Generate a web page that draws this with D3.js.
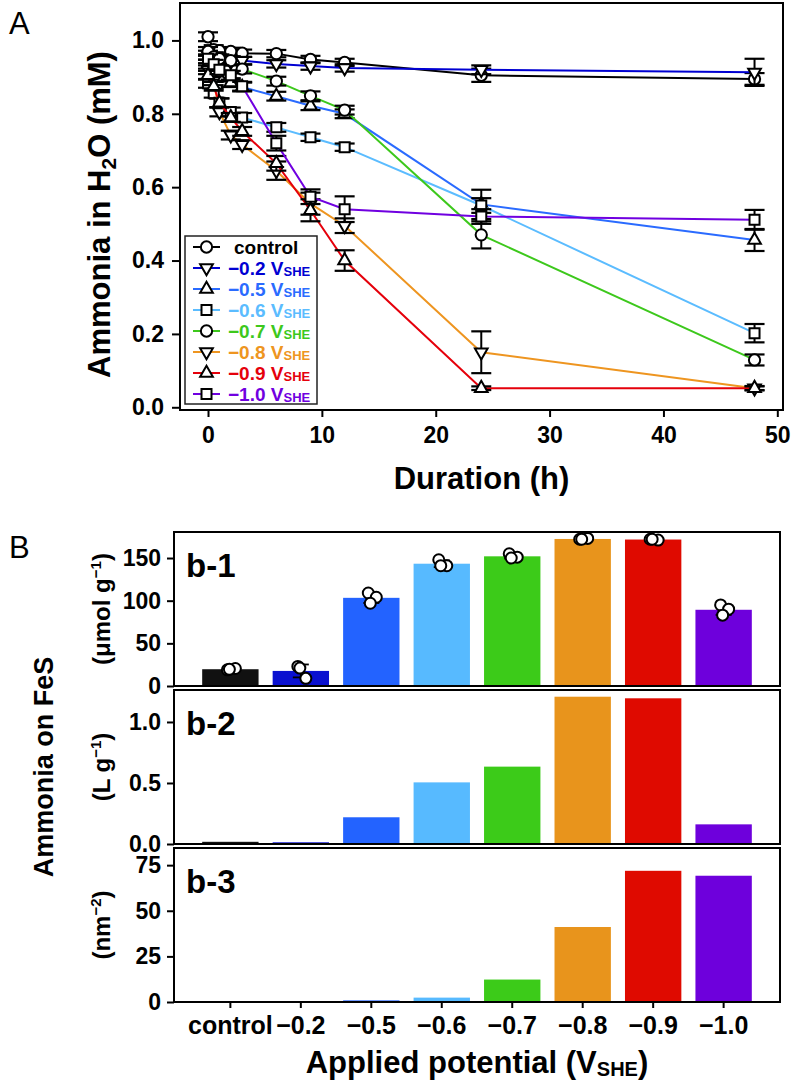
<!DOCTYPE html>
<html>
<head>
<meta charset="utf-8">
<script src="https://cdn.jsdelivr.net/npm/d3@7"></script>
<style>
  body { margin: 0; background: #fff; }
  svg { display: block; font-family: "Liberation Sans", Arial, Helvetica, sans-serif; }
</style>
</head>
<body>
<svg id="fig" width="802" height="1083"></svg>
<script>
// ---- panel A data: ammonia in water vs time ----
const times = [0, 0.5, 1, 2, 3, 6, 9, 12, 24, 48];
const seriesNames = ["control", "−0.2", "−0.5", "−0.6", "−0.7", "−0.8", "−0.9", "−1.0"];

const ctrlY = [1.01, 0.975, 0.972, 0.97, 0.965, 0.964, 0.948, 0.94, 0.905, 0.895];
const ctrlE = [0.012, 0.012, 0.01, 0.01, 0.01, 0.01, 0.01, 0.01, 0.018, 0.016];
const m02Y = [0.96, 0.955, 0.948, 0.942, 0.945, 0.936, 0.93, 0.925, 0.92, 0.913];
const m02E = [0.012, 0.012, 0.01, 0.01, 0.01, 0.01, 0.01, 0.01, 0.012, 0.037];
const m05Y = [0.935, 0.91, 0.9, 0.885, 0.873, 0.848, 0.822, 0.8, 0.553, 0.456];
const m05E = [0.012, 0.012, 0.012, 0.012, 0.012, 0.012, 0.012, 0.012, 0.04, 0.03];
const m06Y = [0.883, 0.856, 0.83, 0.805, 0.79, 0.763, 0.736, 0.709, 0.55, 0.202];
const m06E = [0.012, 0.012, 0.012, 0.012, 0.012, 0.012, 0.01, 0.01, 0.02, 0.025];
const m07Y = [0.97, 0.955, 0.95, 0.945, 0.922, 0.889, 0.849, 0.81, 0.47, 0.129];
const m07E = [0.012, 0.012, 0.012, 0.012, 0.012, 0.012, 0.012, 0.012, 0.037, 0.015];
const m08Y = [0.92, 0.89, 0.805, 0.742, 0.716, 0.645, 0.555, 0.495, 0.15, 0.052];
const m08E = [0.012, 0.012, 0.012, 0.012, 0.012, 0.025, 0.03, 0.02, 0.057, 0.006];
const m09Y = [0.905, 0.875, 0.83, 0.79, 0.752, 0.665, 0.537, 0.40, 0.052, 0.052];
const m09E = [0.012, 0.012, 0.012, 0.012, 0.012, 0.02, 0.03, 0.028, 0.005, 0.005];
const m10Y = [0.95, 0.935, 0.92, 0.905, 0.875, 0.72, 0.574, 0.54, 0.52, 0.511];
const m10E = [0.012, 0.012, 0.012, 0.012, 0.012, 0.02, 0.02, 0.035, 0.02, 0.027];

const allY = [ctrlY, m02Y, m05Y, m06Y, m07Y, m08Y, m09Y, m10Y];
const allE = [ctrlE, m02E, m05E, m06E, m07E, m08E, m09E, m10E];

const xTicksA = [0, 10, 20, 30, 40, 50];
const yTicksA = [0, 0.2, 0.4, 0.6, 0.8, 1.0];

// ---- panel B data: ammonia on FeS per potential ----
const categories = ["control", "−0.2", "−0.5", "−0.6", "−0.7", "−0.8", "−0.9", "−1.0"];
const b1Reps = [
  [19, 20.5, 19.5],
  [23, 9, 21],
  [109, 104, 97],
  [148, 141, 141],
  [155, 151, 150],
  [172, 173, 172],
  [172, 171, 172],
  [95, 90, 83]
];
const b2Vals = [0.018, 0.014, 0.219, 0.505, 0.634, 1.207, 1.194, 0.161];
const b3Vals = [0.1, 0.1, 0.9, 2.4, 12.3, 41.1, 71.9, 69.2];
const b1Ticks = [0, 50, 100, 150];
const b2Ticks = [0, 0.5, 1.0];
const b3Ticks = [0, 25, 50, 75];

// styles
const lineColors = ["#000000", "#0000d2", "#2a6bff", "#5bbcff", "#3dc81c", "#ee9520", "#e5000b", "#7000e0"];
const barColors = ["#111111", "#0a10d0", "#2363ff", "#57baff", "#3ccb19", "#e8941c", "#df0a00", "#6e00dc"];
const markers = ["circle", "down", "up", "square", "circle", "down", "up", "square"];

const svg = d3.select("#fig");
const bold = "bold";

function markerPath(kind) {
  if (kind === "circle") return d3.symbol(d3.symbolCircle, 100)();
  if (kind === "square") return d3.symbol(d3.symbolSquare, 100)();
  return d3.symbol(d3.symbolTriangle, 70)();
}
function drawMarker(g, kind, cx, cy) {
  g.append("path")
    .attr("d", markerPath(kind))
    .attr("transform", `translate(${cx},${cy})` + (kind === "down" ? " rotate(180)" : ""))
    .attr("fill", "#fff")
    .attr("stroke", "#000")
    .attr("stroke-width", 2);
}

// ================= Panel A =================
const A = { left: 180, right: 783, top: 3, bottom: 410 };
const xA = d3.scaleLinear().domain([-2.46, 50.5]).range([A.left, A.right]);
const yA = d3.scaleLinear().domain([-0.0074, 1.102]).range([A.bottom, A.top]);

const gA = svg.append("g");

const xAxisA = gA.append("g")
  .attr("transform", `translate(0,${A.bottom})`)
  .call(d3.axisBottom(xA).tickValues(xTicksA).tickSize(7).tickPadding(10));
const yAxisA = gA.append("g")
  .attr("transform", `translate(${A.left},0)`)
  .call(d3.axisLeft(yA).tickValues(yTicksA).tickFormat(d3.format(".1f")).tickSize(8).tickPadding(8));
[xAxisA, yAxisA].forEach(ax => {
  ax.select(".domain").remove();
  ax.selectAll("line").attr("stroke", "#000").attr("stroke-width", 2);
  ax.selectAll("text").attr("font-size", 23).attr("font-weight", bold).attr("fill", "#000")
    .attr("font-family", "inherit");
});

const lineA = d3.line().x((d, i) => xA(times[i])).y(d => yA(d));

allY.forEach((vals, s) => {
  const g = gA.append("g");
  g.append("path")
    .attr("d", lineA(vals))
    .attr("fill", "none")
    .attr("stroke", lineColors[s])
    .attr("stroke-width", 2);
  vals.forEach((v, i) => {
    const cx = xA(times[i]);
    const e = allE[s][i];
    const y1 = yA(v + e), y2 = yA(v - e);
    g.append("line").attr("x1", cx).attr("x2", cx).attr("y1", y1).attr("y2", y2)
      .attr("stroke", "#000").attr("stroke-width", 2);
    [y1, y2].forEach(yy => {
      g.append("line").attr("x1", cx - 10).attr("x2", cx + 10).attr("y1", yy).attr("y2", yy)
        .attr("stroke", "#000").attr("stroke-width", 2.2);
    });
  });
  vals.forEach((v, i) => drawMarker(g, markers[s], xA(times[i]), yA(v)));
});

gA.append("rect")
  .attr("x", A.left).attr("y", A.top)
  .attr("width", A.right - A.left).attr("height", A.bottom - A.top)
  .attr("fill", "none").attr("stroke", "#000").attr("stroke-width", 2);

// legend
const leg = gA.append("g");
leg.append("rect").attr("x", 185).attr("y", 236).attr("width", 132).attr("height", 168)
  .attr("fill", "#fff").attr("stroke", "#222").attr("stroke-width", 1.5);
seriesNames.forEach((name, i) => {
  const yy = 247 + i * 21;
  leg.append("line").attr("x1", 193).attr("x2", 220).attr("y1", yy).attr("y2", yy)
    .attr("stroke", lineColors[i]).attr("stroke-width", 2);
  drawMarker(leg, markers[i], 206.5, yy);
  const t = leg.append("text")
    .attr("x", i === 0 ? 234 : 228).attr("y", yy + 6.5)
    .attr("font-size", 19).attr("font-weight", bold)
    .attr("fill", lineColors[i]);
  if (i === 0) {
    t.text(name);
  } else {
    t.append("tspan").text(name + " V");
    t.append("tspan").attr("font-size", 13).attr("dy", 1).text("SHE");
  }
});

gA.append("text").attr("x", (A.left + A.right) / 2).attr("y", 489)
  .attr("text-anchor", "middle").attr("font-size", 31).attr("font-weight", bold)
  .text("Duration (h)");

const yLabA = gA.append("text")
  .attr("transform", `translate(110,${(A.top + A.bottom) / 2 + 8}) rotate(-90)`)
  .attr("text-anchor", "middle").attr("font-size", 31).attr("font-weight", bold);
yLabA.append("tspan").text("Ammonia in H");
yLabA.append("tspan").attr("font-size", 21).attr("dy", 6).text("2");
yLabA.append("tspan").attr("dy", -6).text("O (mM)");

svg.append("text").attr("x", 9).attr("y", 34).attr("font-size", 31).text("A");
svg.append("text").attr("x", 9).attr("y", 558).attr("font-size", 31).text("B");

// ================= Panel B =================
const B = { left: 174, right: 780 };
const panelTops = [532, 690, 848];
const panelH = 154;
const xB = d3.scaleBand().domain(categories).range([B.left, B.right])
  .paddingInner(0.2).paddingOuter(0.4);

const b1Means = b1Reps.map(r => d3.mean(r));
const panels = [
  { vals: b1Means, max: 180.5, ticks: b1Ticks, fmt: d3.format("d"), tag: "b-1" },
  { vals: b2Vals, max: 1.262, ticks: b2Ticks, fmt: d3.format(".1f"), tag: "b-2" },
  { vals: b3Vals, max: 84.4, ticks: b3Ticks, fmt: d3.format("d"), tag: "b-3" }
];

panels.forEach((p, k) => {
  const top = panelTops[k], bot = top + panelH;
  const yB = d3.scaleLinear().domain([0, p.max]).range([bot, top]);
  const g = svg.append("g");

  g.selectAll("rect.bar")
    .data(p.vals)
    .enter()
    .append("rect")
    .attr("class", "bar")
    .attr("x", (d, i) => xB(categories[i]))
    .attr("width", xB.bandwidth())
    .attr("y", d => yB(d))
    .attr("height", d => bot - yB(d))
    .attr("fill", (d, i) => barColors[i]);

  if (k === 0) {
    const offs = [-3, 5, -1];
    b1Reps.forEach((reps, i) => {
      const cx = xB(categories[i]) + xB.bandwidth() / 2;
      const m = d3.mean(reps), sd = d3.deviation(reps);
      const y1 = yB(m + sd), y2 = yB(m - sd);
      g.append("line").attr("x1", cx).attr("x2", cx).attr("y1", y1).attr("y2", y2)
        .attr("stroke", "#000").attr("stroke-width", 1.8);
      [y1, y2].forEach(yy => g.append("line").attr("x1", cx - 8).attr("x2", cx + 8)
        .attr("y1", yy).attr("y2", yy).attr("stroke", "#000").attr("stroke-width", 1.8));
      reps.forEach((v, j) => {
        g.append("circle").attr("cx", cx + offs[j]).attr("cy", yB(v)).attr("r", 5.5)
          .attr("fill", "#fff").attr("stroke", "#000").attr("stroke-width", 2);
      });
    });
  }

  const yAx = g.append("g").attr("transform", `translate(${B.left},0)`)
    .call(d3.axisLeft(yB).tickValues(p.ticks).tickFormat(p.fmt).tickSize(7).tickPadding(6));
  yAx.select(".domain").remove();
  yAx.selectAll("line").attr("stroke", "#000").attr("stroke-width", 2);
  yAx.selectAll("text").attr("font-size", 23).attr("font-weight", bold).attr("fill", "#000")
    .attr("font-family", "inherit");

  if (k === 2) {
    const xAx = g.append("g").attr("transform", `translate(0,${bot})`)
      .call(d3.axisBottom(xB).tickSize(6).tickPadding(8));
    xAx.select(".domain").remove();
    xAx.selectAll("line").attr("stroke", "#000").attr("stroke-width", 2);
    xAx.selectAll("text").attr("font-size", 25).attr("font-weight", bold).attr("fill", "#000")
      .attr("font-family", "inherit");
  }

  g.append("rect").attr("x", B.left).attr("y", top)
    .attr("width", B.right - B.left).attr("height", panelH)
    .attr("fill", "none").attr("stroke", "#000").attr("stroke-width", 2);

  g.append("text").attr("x", 186).attr("y", top + 45)
    .attr("font-size", 33).attr("font-weight", bold).text(p.tag);
});

// unit labels
const unitLabels = [
  { base: "(μmol g", sup: "−1" },
  { base: "(L g", sup: "−1" },
  { base: "(nm", sup: "−2" }
];
unitLabels.forEach((u, k) => {
  const cy = panelTops[k] + panelH / 2;
  const t = svg.append("text")
    .attr("transform", `translate(110,${cy}) rotate(-90)`)
    .attr("text-anchor", "middle").attr("font-size", 24).attr("font-weight", bold);
  t.append("tspan").text(u.base);
  t.append("tspan").attr("font-size", 15).attr("dy", -9).text(u.sup);
  t.append("tspan").attr("dy", 9).text(")");
});

svg.append("text")
  .attr("transform", `translate(53,${panelTops[1] + panelH / 2}) rotate(-90)`)
  .attr("text-anchor", "middle").attr("font-size", 27).attr("font-weight", bold)
  .text("Ammonia on FeS");

const xLabB = svg.append("text").attr("x", (B.left + B.right) / 2).attr("y", 1073)
  .attr("text-anchor", "middle").attr("font-size", 31).attr("font-weight", bold);
xLabB.append("tspan").text("Applied potential (V");
xLabB.append("tspan").attr("font-size", 20).attr("dy", 3).text("SHE");
xLabB.append("tspan").attr("dy", -3).text(")");
</script>
</body>
</html>
